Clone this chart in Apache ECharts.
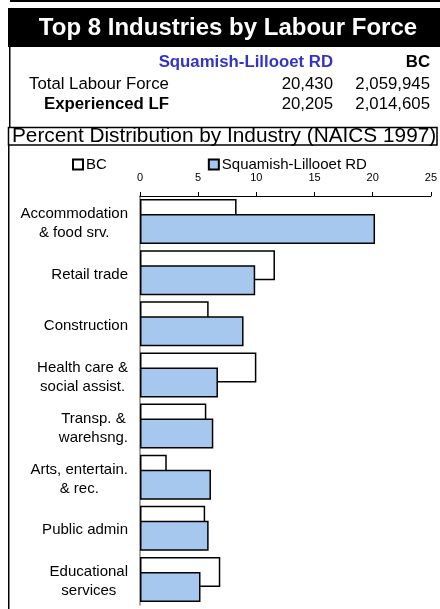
<!DOCTYPE html>
<html>
<head>
<meta charset="utf-8">
<script src="https://cdn.jsdelivr.net/npm/echarts@6/dist/echarts.min.js"></script>
<style>
  html, body { margin: 0; padding: 0; background: #fff; }
  #chart { width: 440px; height: 609px; }
</style>
</head>
<body>
<div id="chart"></div>
<script>
// industries, top to bottom
const categories = [
  'Accommodation\n& food srv.',
  'Retail trade',
  'Construction',
  'Health care &\nsocial assist.',
  'Transp. &\nwarehsng.',
  'Arts, entertain.\n& rec.',
  'Public admin',
  'Educational\nservices'
]
// percent of experienced labour force
const bcValues = [8.3, 11.6, 5.9, 10.0, 5.7, 2.3, 5.6, 6.9]
const slrdValues = [20.2, 9.9, 8.9, 6.7, 6.3, 6.1, 5.9, 5.2]
const seriesNames = ['BC', 'Squamish-Lillooet RD']
const xMin = 0
const xMax = 25
const xStep = 5

// labour force table
const tableTitle = 'Top 8 Industries by Labour Force'
const tableCols = ['Squamish-Lillooet RD', 'BC']
const rowLabels = ['Total Labour Force', 'Experienced LF']
const slrdCounts = ['20,430', '20,205']
const bcCounts = ['2,059,945', '2,014,605']
const subTitle = 'Percent Distribution by Industry (NAICS 1997)'

const font = '"Liberation Sans", Arial, sans-serif'

function txt(text, x, y, opts) {
  return {
    type: 'text',
    silent: true,
    style: Object.assign({
      text: text,
      x: x,
      y: y,
      fill: '#000',
      fontFamily: font,
      fontSize: 16.8,
      align: 'left',
      verticalAlign: 'middle'
    }, opts || {})
  }
}

const graphics = [
  // top rule + title band
  { type: 'rect', shape: { x: 10, y: 0, width: 440, height: 2 }, style: { fill: '#000' } },
  { type: 'rect', shape: { x: 8, y: 8, width: 440, height: 39 }, style: { fill: '#000' } },
  txt(tableTitle, 228, 28, { fill: '#fff', fontSize: 24, fontWeight: 'bold', align: 'center' }),
  // table left border
  { type: 'rect', shape: { x: 9, y: 47, width: 1.5, height: 81 }, style: { fill: '#000' } },
  txt(tableCols[0], 333, 62, { fill: '#3333cc', fontWeight: 'bold', align: 'right' }),
  txt(tableCols[1], 430, 62, { fontWeight: 'bold', align: 'right' }),
  txt(rowLabels[0], 29, 84),
  txt(slrdCounts[0], 333, 84, { align: 'right' }),
  txt(bcCounts[0], 430, 84, { align: 'right' }),
  txt(rowLabels[1], 44, 104, { fontWeight: 'bold' }),
  txt(slrdCounts[1], 333, 104, { align: 'right' }),
  txt(bcCounts[1], 430, 104, { align: 'right' }),
  // percent distribution row
  { type: 'rect', shape: { x: 8.5, y: 127.5, width: 428.5, height: 17.5 }, style: { fill: 'none', stroke: '#000', lineWidth: 1.5 } },
  txt(subTitle, 12, 136.5, { fontSize: 20.8 }),
  // chart frame
  { type: 'rect', shape: { x: 8, y: 145, width: 1.5, height: 470 }, style: { fill: '#000' } }
]

const myChart = echarts.init(document.getElementById('chart'))
myChart.setOption({
  animation: false,
  textStyle: { fontFamily: font },
  graphic: graphics,
  legend: {
    left: 67,
    top: 152,
    itemWidth: 10,
    itemHeight: 10,
    itemGap: 101,
    icon: 'rect',
    textStyle: { fontSize: 15, color: '#000', padding: [0, 0, 0, -2] },
    data: seriesNames
  },
  grid: {
    left: 140,
    right: 8,
    top: 196,
    bottom: 4
  },
  xAxis: {
    type: 'value',
    position: 'top',
    min: xMin,
    max: xMax,
    interval: xStep,
    splitLine: { show: false },
    axisLine: { show: true, lineStyle: { color: '#000', width: 1 } },
    axisTick: { show: true, length: 4, lineStyle: { color: '#000' } },
    axisLabel: { fontSize: 11, color: '#000', margin: 13 }
  },
  yAxis: {
    type: 'category',
    inverse: true,
    data: categories,
    axisLine: { show: true, lineStyle: { color: '#888', width: 1.5 } },
    axisTick: { show: false },
    axisLabel: {
      margin: 12,
      fontSize: 15,
      lineHeight: 19,
      color: '#000',
      padding: [4, 0, 0, 0],
      formatter: function(v) {
        return v.split('\n').map(function(s) { return '{c|' + s + '}' }).join('\n')
      },
      rich: {
        c: { align: 'center', fontSize: 15, lineHeight: 19, color: '#000' }
      }
    }
  },
  series: [
    {
      name: seriesNames[0],
      type: 'bar',
      data: bcValues,
      barWidth: 30,
      barGap: '-50%',
      itemStyle: { color: '#fff', borderColor: '#000', borderWidth: 1.5 }
    },
    {
      name: seriesNames[1],
      type: 'bar',
      data: slrdValues,
      barWidth: 30,
      barGap: '-50%',
      itemStyle: { color: '#a6c8ef', borderColor: '#000', borderWidth: 1.5 }
    }
  ]
})
</script>
</body>
</html>
